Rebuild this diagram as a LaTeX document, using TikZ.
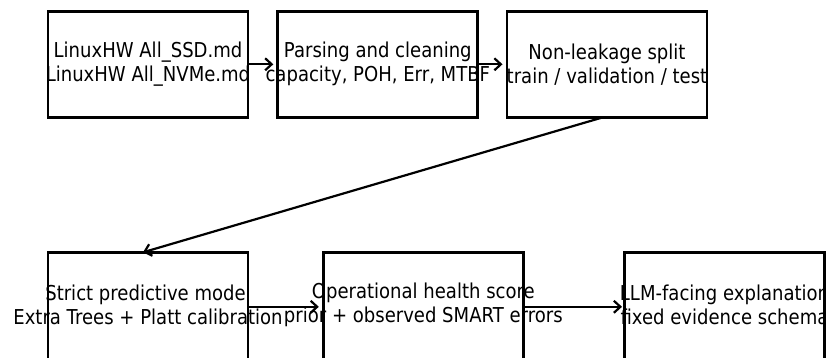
\documentclass[tikz,border=0pt]{standalone}
\usepackage{fontspec}
\setmainfont{DejaVu Sans}[FakeStretch=0.88]
\usetikzlibrary{arrows.meta}
\begin{document}
\begin{tikzpicture}[x=1pt,y=-1pt,
  box/.style={draw=black, line width=2.7pt, minimum width=200pt, minimum height=106pt, inner sep=0pt, outer sep=0pt},
  lowbox/.style={box, minimum height=112pt},
  lbl/.style={align=center, inner sep=0pt, font=\fontsize{20.5}{24}\selectfont},
  arr/.style={line width=2.2pt, -{Straight Barb[length=6.5pt,width=12pt,line width=2.2pt]}, shorten >=4.5pt}]
\clip (0,0) rectangle (826,358);
\fill[white] (0,0) rectangle (826,358);
\node[box] (b1) at (148,64.3) {};
\node[box] (b2) at (377.8,64.3) {};
\node[box] (b3) at (607,64.3) {};
\node[lowbox] (b4) at (148,308.3) {};
\node[lowbox] (b5) at (423.3,308.3) {};
\node[lowbox] (b6) at (724.5,308.3) {};
\node[lbl] (t1) at (148,64.3) {LinuxHW All\_SSD.md\\LinuxHW All\_NVMe.md};
\node[lbl] (t2) at (377.8,64.3) {Parsing and cleaning\\capacity, POH, Err, MTBF};
\node[lbl] (t3) at (607,64.3) {Non-leakage split\\train / validation / test};
\node[lbl] (t4) at (148,305.3) {Strict predictive model\\Extra Trees + Platt calibration};
\node[lbl] (t5) at (423.3,305.3) {Operational health score\\prior + observed SMART errors};
\node[lbl] (t6) at (724.5,305.3) {LLM-facing explanation\\fixed evidence schema};
\draw[arr] (b1.east) -- (b2.west);
\draw[arr] (b2.east) -- (b3.west);
\draw[arr, shorten >=0pt] ([xshift=-4pt]b3.south) -- ([xshift=-5pt]b4.north);
\draw[arr] ([yshift=1.5pt]b4.east) -- ([yshift=1.5pt]b5.west);
\draw[arr, shorten >=2.5pt] ([yshift=1.5pt]b5.east) -- ([yshift=1.5pt]b6.west);
\end{tikzpicture}
\end{document}
